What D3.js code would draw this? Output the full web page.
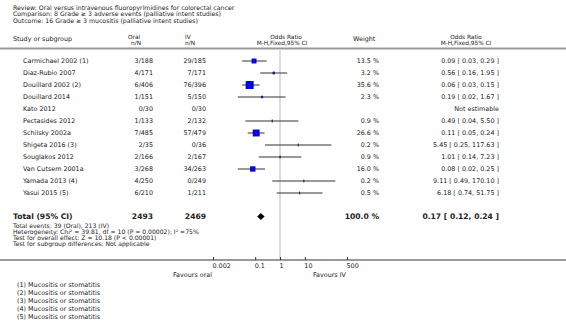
<!DOCTYPE html>
<html>
<head>
<meta charset="utf-8">
<script src="https://cdn.jsdelivr.net/npm/d3@7"></script>
<style>
  body { margin: 0; background: #fff; }
  svg { font-family: "DejaVu Sans", Verdana, sans-serif; }
  text { fill: #222; }
</style>
</head>
<body>
<div id="chart"></div>
<script>
// Forest plot data
const studies = ["Carmichael 2002 (1)", "Diaz-Rubio 2007", "Douillard 2002 (2)", "Douillard 2014",
  "Kato 2012", "Pectasides 2012", "Schilsky 2002a", "Shigeta 2016 (3)", "Souglakos 2012",
  "Van Cutsem 2001a", "Yamada 2013 (4)", "Yasui 2015 (5)"];
const oralN = ["3/188", "4/171", "6/406", "1/151", "0/30", "1/133", "7/485", "2/35", "2/166", "3/268", "4/250", "6/210"];
const ivN = ["29/185", "7/171", "76/396", "5/150", "0/30", "2/132", "57/479", "0/36", "2/167", "34/263", "0/249", "1/211"];
const weights = [13.5, 3.2, 35.6, 2.3, null, 0.9, 26.6, 0.2, 0.9, 16.0, 0.2, 0.5];
const orEst = [0.09, 0.56, 0.06, 0.19, null, 0.49, 0.11, 5.45, 1.01, 0.08, 9.11, 6.18];
const orLo = [0.03, 0.16, 0.03, 0.02, null, 0.04, 0.05, 0.25, 0.14, 0.02, 0.49, 0.74];
const orHi = [0.29, 1.95, 0.15, 1.67, null, 5.50, 0.24, 117.63, 7.23, 0.25, 170.10, 51.75];
const orText = ["0.09 [ 0.03, 0.29 ]", "0.56 [ 0.16, 1.95 ]", "0.06 [ 0.03, 0.15 ]", "0.19 [ 0.02, 1.67 ]",
  "Not estimable", "0.49 [ 0.04, 5.50 ]", "0.11 [ 0.05, 0.24 ]", "5.45 [ 0.25, 117.63 ]",
  "1.01 [ 0.14, 7.23 ]", "0.08 [ 0.02, 0.25 ]", "9.11 [ 0.49, 170.10 ]", "6.18 [ 0.74, 51.75 ]"];
const total = { oral: "2493", iv: "2469", weight: "100.0 %", or: 0.17, lo: 0.12, hi: 0.24, text: "0.17 [ 0.12, 0.24 ]" };
const tickVals = [0.002, 0.1, 1, 10, 500];
const tickLabels = ["0.002", "0.1", "1", "10", "500"];
const titleLines = ["Review:  Oral versus intravenous fluoropyrimidines for colorectal cancer",
  "Comparison:  8 Grade \u2265 3 adverse events (palliative intent studies)",
  "Outcome:  16 Grade \u2265 3 mucositis (palliative intent studies)"];
const summaryLines = ["Total events: 39 (Oral), 213 (IV)",
  "Heterogeneity: Chi\u00b2 = 39.81, df = 10 (P = 0.00002); I\u00b2 =75%",
  "Test for overall effect: Z = 10.18 (P < 0.00001)",
  "Test for subgroup differences: Not applicable"];
const footnotes = ["(1) Mucositis or stomatitis", "(2) Mucositis or stomatitis", "(3) Mucositis or stomatitis",
  "(4) Mucositis or stomatitis", "(5) Mucositis or stomatitis"];

const W = 566, H = 324;
const fs = 6.4;
const svg = d3.select("#chart").append("svg").attr("width", W).attr("height", H);

const x = d3.scaleLog().domain([0.002, 500]).range([213, 347]);
const y = d3.scaleLinear().domain([0, studies.length - 1]).range([61, 193]);
const axisY = 260;

// title block
svg.selectAll(".title").data(titleLines).join("text")
  .attr("x", 13).attr("y", (d, i) => 9.5 + i * 6.5)
  .style("font-size", "6.2px").text(d => d);

// column headers
const hdr = svg.append("g").style("font-size", "5.8px");
hdr.append("text").attr("x", 13).attr("y", 41).style("font-size", fs + "px").text("Study or subgroup");
hdr.append("text").attr("x", 128).attr("y", 38.5).text("Oral");
hdr.append("text").attr("x", 131).attr("y", 45).text("n/N");
hdr.append("text").attr("x", 185).attr("y", 38.5).text("IV");
hdr.append("text").attr("x", 185).attr("y", 45).text("n/N");
hdr.append("text").attr("x", 286).attr("y", 38.5).attr("text-anchor", "middle").text("Odds Ratio");
hdr.append("text").attr("x", 282).attr("y", 45).attr("text-anchor", "middle").text("M-H,Fixed,95% CI");
hdr.append("text").attr("x", 353).attr("y", 41).style("font-size", fs + "px").text("Weight");
hdr.append("text").attr("x", 466).attr("y", 38.5).attr("text-anchor", "middle").text("Odds Ratio");
hdr.append("text").attr("x", 466).attr("y", 45).attr("text-anchor", "middle").text("M-H,Fixed,95% CI");

// separator line under header
svg.append("line").attr("x1", 0).attr("x2", W).attr("y1", 48.5).attr("y2", 48.5)
  .attr("stroke", "#999").attr("stroke-width", 2);

// null line
svg.append("line").attr("x1", x(1)).attr("x2", x(1)).attr("y1", 49).attr("y2", axisY)
  .attr("stroke", "#ddd").attr("stroke-width", 2);

// study rows
const rows = svg.append("g").selectAll("g").data(studies).join("g")
  .attr("transform", (d, i) => `translate(0,${y(i)})`)
  .style("font-size", fs + "px");
rows.append("text").attr("x", 23).attr("dy", "0.35em").text(d => d);
rows.append("text").attr("x", 153).attr("dy", "0.35em").attr("text-anchor", "end").text((d, i) => oralN[i]);
rows.append("text").attr("x", 206).attr("dy", "0.35em").attr("text-anchor", "end").text((d, i) => ivN[i]);
rows.append("text").attr("x", 379).attr("dy", "0.35em").attr("text-anchor", "end")
  .text((d, i) => weights[i] == null ? "" : weights[i].toFixed(1) + " %");
rows.append("text").attr("x", 499).attr("dy", "0.35em").attr("text-anchor", "end").text((d, i) => orText[i]);

const est = rows.filter((d, i) => orEst[i] != null);
est.append("line")
  .attr("x1", d => x(orLo[studies.indexOf(d)]))
  .attr("x2", d => x(orHi[studies.indexOf(d)]))
  .attr("stroke", "#333").attr("stroke-width", 1);
est.append("rect")
  .each(function(d) {
    const k = studies.indexOf(d);
    const s = Math.max(1, 8 * Math.sqrt(weights[k] / 35.6));
    d3.select(this).attr("x", x(orEst[k]) - s / 2).attr("y", -s / 2).attr("width", s).attr("height", s);
  })
  .attr("fill", "#0000ee");
est.append("line")
  .attr("x1", d => x(orEst[studies.indexOf(d)])).attr("x2", d => x(orEst[studies.indexOf(d)]))
  .attr("y1", -1.5).attr("y2", 1.5).attr("stroke", "#333").attr("stroke-width", 1);

// total row
const ty = 216.5;
const tot = svg.append("g").style("font-size", "7.6px").style("font-weight", "bold");
tot.append("text").attr("x", 13).attr("y", ty).attr("dy", "0.35em").text("Total (95% CI)");
tot.append("text").attr("x", 153).attr("y", ty).attr("dy", "0.35em").attr("text-anchor", "end").text(total.oral);
tot.append("text").attr("x", 206).attr("y", ty).attr("dy", "0.35em").attr("text-anchor", "end").text(total.iv);
tot.append("text").attr("x", 379).attr("y", ty).attr("dy", "0.35em").attr("text-anchor", "end").text(total.weight);
tot.append("text").attr("x", 499).attr("y", ty).attr("dy", "0.35em").attr("text-anchor", "end").text(total.text);
svg.append("path")
  .attr("d", `M${x(total.lo)},${ty} L${x(total.or)},${ty - 3.5} L${x(total.hi)},${ty} L${x(total.or)},${ty + 3.5} Z`)
  .attr("fill", "#000");

svg.selectAll(".summary").data(summaryLines).join("text")
  .attr("x", 13).attr("y", (d, i) => 227.5 + i * 6.2)
  .style("font-size", "6.1px").text(d => d);

// axis
svg.append("line").attr("x1", 0).attr("x2", W).attr("y1", axisY).attr("y2", axisY)
  .attr("stroke", "#999").attr("stroke-width", 2);
const ax = svg.append("g").attr("transform", `translate(0,${axisY - 3})`)
  .call(d3.axisBottom(x).tickValues(tickVals).tickFormat((d, i) => tickLabels[i]).tickSize(3).tickPadding(3));
ax.select(".domain").remove();
ax.selectAll(".tick line").attr("stroke", "#333");
ax.selectAll(".tick text").style("font-size", fs + "px").style("font-family", "DejaVu Sans, sans-serif")
  .attr("fill", "#222").attr("text-anchor", "start").attr("dx", -1);

svg.append("text").attr("x", 212).attr("y", 277).attr("text-anchor", "end")
  .style("font-size", fs + "px").text("Favours oral");
svg.append("text").attr("x", 313).attr("y", 277)
  .style("font-size", fs + "px").text("Favours IV");

// footnotes
svg.selectAll(".foot").data(footnotes).join("text")
  .attr("x", 17).attr("y", (d, i) => 286.5 + i * 8)
  .style("font-size", fs + "px").text(d => d);
</script>
</body>
</html>
